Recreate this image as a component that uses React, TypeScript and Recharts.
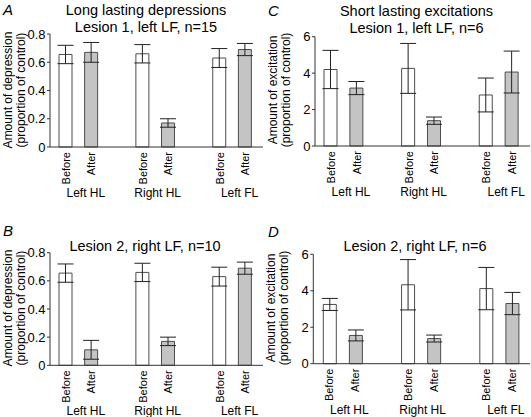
import { BarChart, Bar, XAxis, YAxis, ErrorBar, Cell } from "recharts";

/* ── values ── */
const limbs = ["Left HL", "Right HL", "Left FL"];
const phases = ["Before", "After"];

// bar order: Left HL before/after, Right HL before/after, Left FL before/after
const depLesion1 = [0.655, 0.67, 0.66, 0.17, 0.63, 0.69];
const depLesion1Err = [0.065, 0.07, 0.065, 0.03, 0.067, 0.043];
const depLesion2 = [0.655, 0.11, 0.66, 0.17, 0.63, 0.69];
const depLesion2Err = [0.065, 0.067, 0.065, 0.03, 0.067, 0.043];
const excLesion1 = [4.2, 3.18, 4.26, 1.39, 2.8, 4.06];
const excLesion1Err = [1.05, 0.36, 1.37, 0.2, 0.93, 1.15];
const excLesion2 = [3.25, 1.55, 4.33, 1.38, 4.12, 3.3];
const excLesion2Err = [0.33, 0.3, 1.38, 0.19, 1.16, 0.61];

const depTicks = [0, 0.2, 0.4, 0.6, 0.8];
const excTicks = [0, 2, 4, 6];

const FONT = '"Liberation Sans", Arial, Helvetica, sans-serif';
const limbLabelShift = [20, 15, 20];

function buildRows(values: number[], errs: number[]) {
  const rows: { key: string; value: number | null; err: number | null }[] = [];
  limbs.forEach((limb, i) => {
    phases.forEach((phase, j) => {
      rows.push({ key: `${limb}|${phase}`, value: values[i * 2 + j], err: errs[i * 2 + j] });
    });
    if (i < limbs.length - 1) rows.push({ key: `gap${i}`, value: null, err: null });
  });
  return rows;
}

/* eslint-disable @typescript-eslint/no-explicit-any */
function LimbTick({ x, y, payload }: any) {
  const v = String(payload?.value ?? "");
  if (!v.includes("|")) return <g />;
  const [limb, phase] = v.split("|");
  const li = limbs.indexOf(limb);
  return (
    <g fontFamily={FONT} fill="#000">
      <text transform={`translate(${x + 4},${y + 5}) rotate(-90)`} textAnchor="end" fontSize={11}>
        {phase}
      </text>
      {phase === "Before" && (
        <text x={x + limbLabelShift[li]} y={y + 50} textAnchor="middle" fontSize={12}>
          {limb}
        </text>
      )}
    </g>
  );
}

type PanelProps = {
  letter: string;
  title: string[];
  yLabel: string;
  values: number[];
  errs: number[];
  ticks: number[];
  left: number;
  top: number;
  width: number;
  height: number;
  axisX: number;
  plotTop: number;
  plotBottom: number;
  rightEdge: number;
  titleX: number;
  titleY: number;
  letterY: number;
};

function Panel(p: PanelProps) {
  const rows = buildRows(p.values, p.errs);
  const xAxisHeight = p.height - (p.plotBottom - p.top);
  const labelCy = (p.plotTop + p.plotBottom) / 2 - p.top - 1;
  return (
    <div style={{ position: "absolute", left: p.left, top: p.top, width: p.width, height: p.height }}>
      <div
        style={{
          position: "absolute",
          left: 3,
          top: p.letterY - p.top - 9,
          fontSize: 15,
          fontStyle: "italic",
          lineHeight: "18px",
        }}
      >
        {p.letter}
      </div>
      <div
        style={{
          position: "absolute",
          left: p.titleX - p.left,
          top: p.titleY - p.top - 8.5,
          transform: "translateX(-50%)",
          fontSize: 14.5,
          lineHeight: "17px",
          textAlign: "center",
          whiteSpace: "nowrap",
        }}
      >
        {p.title.map((t) => (
          <div key={t}>{t}</div>
        ))}
      </div>
      <div
        style={{
          position: "absolute",
          left: p.axisX - p.left - 36,
          top: labelCy,
          transform: "translate(-50%,-50%) rotate(-90deg)",
          fontSize: 12,
          lineHeight: "12.5px",
          textAlign: "center",
          whiteSpace: "nowrap",
        }}
      >
        <div>{p.yLabel}</div>
        <div>(proportion of control)</div>
      </div>
      <BarChart
        width={p.width}
        height={p.height}
        data={rows}
        margin={{ top: p.plotTop - p.top, right: p.left + p.width - p.rightEdge, bottom: 0, left: 0 }}
        style={{ position: "absolute", left: 0, top: 0 }}
      >
        <XAxis
          dataKey="key"
          interval={0}
          tickLine={false}
          tickSize={0}
          tickMargin={0}
          height={xAxisHeight}
          padding={{ left: 3, right: 5 }}
          stroke="#333"
          tick={<LimbTick />}
        />
        <YAxis
          width={p.axisX - p.left}
          domain={[p.ticks[0], p.ticks[p.ticks.length - 1]]}
          ticks={p.ticks}
          tickSize={3}
          tickMargin={1.5}
          stroke="#333"
          tick={{ fontSize: 13, fill: "#000", fontFamily: FONT }}
        />
        <Bar dataKey="value" barSize={13} stroke="#4d4d4d" strokeWidth={1} isAnimationActive={false}>
          {rows.map((r) => (
            <Cell key={r.key} fill={r.key.endsWith("After") ? "#c4c4c4" : "#ffffff"} />
          ))}
          <ErrorBar dataKey="err" width={8} stroke="#222" strokeWidth={1} direction="y" isAnimationActive={false} />
        </Bar>
      </BarChart>
    </div>
  );
}

export default function App() {
  return (
    <div
      style={{
        position: "absolute",
        left: 0,
        top: 0,
        width: 531,
        height: 417,
        background: "#fff",
        fontFamily: FONT,
        color: "#000",
      }}
    >
      <style>{"body{margin:0}"}</style>
      <Panel
        letter="A"
        title={["Long lasting depressions", "Lesion 1, left LF, n=15"]}
        yLabel="Amount of depression"
        values={depLesion1}
        errs={depLesion1Err}
        ticks={depTicks}
        left={0}
        top={0}
        width={265}
        height={210}
        axisX={50}
        plotTop={34}
        plotBottom={147}
        rightEdge={263}
        titleX={146}
        titleY={10}
        letterY={10}
      />
      <Panel
        letter="C"
        title={["Short lasting excitations", "Lesion 1, left LF, n=6"]}
        yLabel="Amount of excitation"
        values={excLesion1}
        errs={excLesion1Err}
        ticks={excTicks}
        left={265}
        top={0}
        width={266}
        height={210}
        axisX={315}
        plotTop={36.7}
        plotBottom={146}
        rightEdge={530}
        titleX={416.5}
        titleY={11}
        letterY={11}
      />
      <Panel
        letter="B"
        title={["Lesion 2, right LF, n=10"]}
        yLabel="Amount of depression"
        values={depLesion2}
        errs={depLesion2Err}
        ticks={depTicks}
        left={0}
        top={210}
        width={265}
        height={207}
        axisX={50}
        plotTop={252.7}
        plotBottom={365.3}
        rightEdge={263}
        titleX={145}
        titleY={246}
        letterY={231}
      />
      <Panel
        letter="D"
        title={["Lesion 2, right LF, n=6"]}
        yLabel="Amount of excitation"
        values={excLesion2}
        errs={excLesion2Err}
        ticks={excTicks}
        left={265}
        top={210}
        width={266}
        height={207}
        axisX={313.3}
        plotTop={254.3}
        plotBottom={363.7}
        rightEdge={530}
        titleX={415}
        titleY={246}
        letterY={232}
      />
    </div>
  );
}
